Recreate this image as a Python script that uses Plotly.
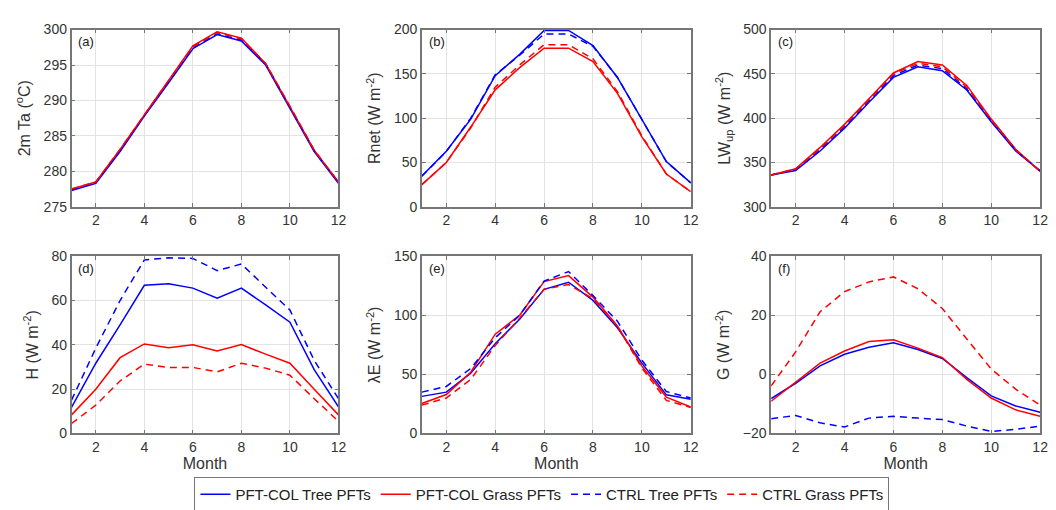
import plotly.graph_objects as go

months = list(range(1, 13))

# (a) 2m air temperature
ta_col_tree = [277.3, 278.3, 282.8, 287.8, 292.5, 297.3, 299.3, 298.4, 295.0, 288.9, 282.8, 278.3]
ta_col_grass = [277.5, 278.5, 283.1, 288.0, 292.8, 297.7, 299.7, 298.8, 295.2, 289.2, 283.0, 278.5]
ta_ctrl_tree = [277.4, 278.4, 282.9, 287.9, 292.6, 297.4, 299.4, 298.5, 295.1, 289.0, 282.9, 278.4]
ta_ctrl_grass = [277.5, 278.5, 283.1, 288.0, 292.8, 297.6, 299.6, 298.7, 295.2, 289.2, 283.0, 278.5]

# (b) net radiation
rn_col_tree = [34.8, 62.8, 99, 148, 172, 199, 199, 182, 146, 99, 51, 27]
rn_col_grass = [25, 50, 90, 132, 157, 179, 179, 164, 128, 79, 37, 17]
rn_ctrl_tree = [34.5, 62.5, 100, 149, 171, 195, 195, 181, 146, 99, 51, 27]
rn_ctrl_grass = [25, 50, 89, 135, 160, 183, 183, 167, 130, 80, 37, 17]

# (c) upward longwave
lw_col_tree = [335.8, 341, 363, 388.7, 418, 446, 458, 453.6, 431.8, 396, 363, 340.5]
lw_col_grass = [336, 343, 367, 393, 422, 451, 464, 460, 437, 399, 365, 340]
lw_ctrl_tree = [336, 342, 364, 390, 419, 448, 460, 456, 433, 397, 364, 340.5]
lw_ctrl_grass = [336, 342.5, 366, 392, 421, 450, 462, 458, 435, 398, 364.5, 340]

# (d) sensible heat
h_col_tree = [11.8, 31.7, 49.0, 66.9, 67.6, 65.6, 61.1, 65.6, 58.0, 50.2, 28.8, 12.0]
h_col_grass = [8.4, 20.0, 34.2, 40.4, 38.7, 40.0, 37.2, 40.1, 35.8, 31.7, 20.0, 8.4]
h_ctrl_tree = [15.0, 38.5, 60.0, 78.3, 79.3, 79.0, 73.5, 76.5, 66.0, 55.7, 33.0, 15.7]
h_ctrl_grass = [4.5, 12.8, 23.7, 31.3, 29.8, 29.8, 27.8, 31.7, 29.5, 26.3, 15.7, 5.5]

# (e) latent heat
le_col_tree = [31.4, 35, 51, 76, 96.6, 122, 128, 112.6, 89.4, 59.5, 32.7, 29]
le_col_grass = [25.4, 33, 51.8, 84, 100, 128.5, 133.6, 115.4, 91, 57, 30.8, 22.4]
le_ctrl_tree = [35, 39.8, 55, 81, 100, 129, 137, 116.7, 95, 62, 35.5, 30]
le_ctrl_grass = [24, 30, 45.8, 74.4, 97.6, 122, 126, 114, 90.8, 55.4, 28, 22]

# (f) ground heat flux
g_col_tree = [-8.2, -3.0, 2.9, 6.8, 9.2, 10.7, 8.4, 5.4, -1.1, -7.3, -10.7, -12.8]
g_col_grass = [-9.1, -2.8, 3.8, 7.9, 11.1, 11.7, 8.9, 5.7, -1.7, -8.0, -12.0, -14.2]
g_ctrl_tree = [-15.0, -13.9, -16.4, -17.8, -14.8, -14.2, -14.8, -15.3, -17.5, -19.3, -18.6, -17.5]
g_ctrl_grass = [-3.9, 7.6, 21.2, 28.0, 31.3, 33.0, 29.0, 22.3, 12.0, 1.8, -5.0, -10.4]

series_names = ["PFT-COL Tree PFTs", "PFT-COL Grass PFTs", "CTRL Tree PFTs", "CTRL Grass PFTs"]
series_colors = ["#0000FF", "#FF0000", "#0000FF", "#FF0000"]
series_dash = ["solid", "solid", "7px,5px", "7px,5px"]

panels = [
    ("(a)", "2m Ta (<sup>o</sup>C)", [275, 300], [275, 280, 285, 290, 295, 300],
     [ta_col_tree, ta_col_grass, ta_ctrl_tree, ta_ctrl_grass]),
    ("(b)", "Rnet (W m<sup>-2</sup>)", [0, 200], [0, 50, 100, 150, 200],
     [rn_col_tree, rn_col_grass, rn_ctrl_tree, rn_ctrl_grass]),
    ("(c)", "LW<sub>up</sub> (W m<sup>-2</sup>)", [300, 500], [300, 350, 400, 450, 500],
     [lw_col_tree, lw_col_grass, lw_ctrl_tree, lw_ctrl_grass]),
    ("(d)", "H (W m<sup>-2</sup>)", [0, 80], [0, 20, 40, 60, 80],
     [h_col_tree, h_col_grass, h_ctrl_tree, h_ctrl_grass]),
    ("(e)", "λE (W m<sup>-2</sup>)", [0, 150], [0, 50, 100, 150],
     [le_col_tree, le_col_grass, le_ctrl_tree, le_ctrl_grass]),
    ("(f)", "G (W m<sup>-2</sup>)", [-20, 40], [-20, 0, 20, 40],
     [g_col_tree, g_col_grass, g_ctrl_tree, g_ctrl_grass]),
]

W, H = 1056, 510
xdoms = [(64, 333), (417, 688), (769, 1040)]
ydoms = [(14, 197), (248, 431)]

fig = go.Figure()
axis_color = "#767676"
font_color = "#333333"
grid_color = "#e3e3e3"

layout = {}
for k, (lab, ytitle, yrng, yticks, data) in enumerate(panels):
    r, c = divmod(k, 3)
    n = k + 1
    xa = "x" if n == 1 else f"x{n}"
    ya = "y" if n == 1 else f"y{n}"
    for s in range(4):
        fig.add_trace(go.Scatter(
            x=months, y=data[s], mode="lines", name=series_names[s],
            line=dict(color=series_colors[s], width=1.5, dash=series_dash[s]),
            showlegend=(k == 0), xaxis=xa, yaxis=ya))
    x0, x1 = xdoms[c]
    y0, y1 = ydoms[r]
    common = dict(showline=True, linecolor=axis_color, linewidth=1.5, mirror="ticks",
                  ticks="inside", ticklen=4, tickcolor=axis_color,
                  showgrid=True, gridcolor=grid_color, zeroline=False,
                  tickfont=dict(size=14, color=font_color))
    layout["xaxis" if n == 1 else f"xaxis{n}"] = dict(
        domain=[x0 / W, x1 / W], range=[1, 12], tickvals=[2, 4, 6, 8, 10, 12],
        anchor=ya,
        title=dict(text="Month" if r == 1 else "", font=dict(size=16, color=font_color), standoff=4),
        **common)
    layout["yaxis" if n == 1 else f"yaxis{n}"] = dict(
        domain=[1 - y1 / H, 1 - y0 / H], range=yrng, tickvals=yticks, anchor=xa,
        title=dict(text=ytitle, font=dict(size=16, color=font_color), standoff=9),
        **common)
    fig.add_annotation(x=(x0 + 5) / W, y=1 - (y0 + 3) / H, xref="paper", yref="paper",
                       text=lab, showarrow=False, xanchor="left", yanchor="top",
                       font=dict(size=13, color="#222222"))

fig.update_layout(
    **layout,
    width=W, height=H,
    margin=dict(l=0, r=0, t=0, b=0),
    paper_bgcolor="white", plot_bgcolor="white",
    font=dict(family="Liberation Sans, Arial, sans-serif", color=font_color),
    legend=dict(orientation="h", x=538 / W, y=1 - 494 / H, xanchor="center", yanchor="middle",
                bordercolor=axis_color, borderwidth=1, bgcolor="white",
                font=dict(size=15, color="#222222"), tracegroupgap=0),
)

fig.write_html("out.html")
